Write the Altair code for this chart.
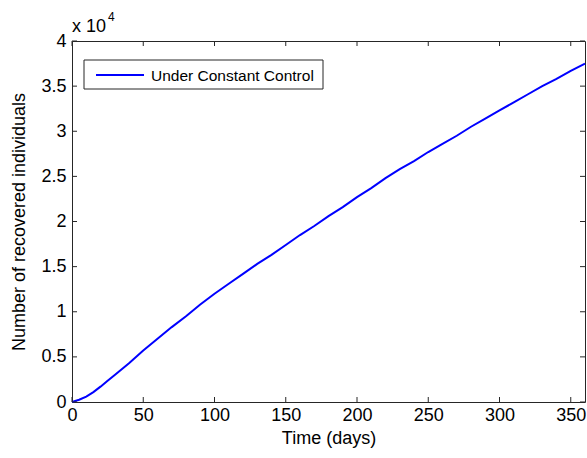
import altair as alt
import pandas as pd

# ---- data ----
days = [0, 5, 10, 15, 20, 25, 30, 40, 50, 60, 70, 80, 90, 100, 110, 120, 130, 140,
        150, 160, 170, 180, 190, 200, 210, 220, 230, 240, 250, 260, 270, 280, 290,
        300, 310, 320, 330, 340, 350, 360]
recovered = [0, 250, 600, 1100, 1700, 2350, 3000, 4300, 5700, 7000, 8300, 9500,
             10800, 12000, 13100, 14200, 15300, 16300, 17400, 18500, 19500, 20600,
             21600, 22700, 23700, 24800, 25800, 26700, 27700, 28600, 29500, 30500,
             31400, 32300, 33200, 34100, 35000, 35800, 36700, 37500]
series_name = "Under Constant Control"
x_ticks = [0, 50, 100, 150, 200, 250, 300, 350]
y_ticks = [0, 5000, 10000, 15000, 20000, 25000, 30000, 35000, 40000]

W, H = 513, 361
FONT = "Liberation Sans"
AX = "#262626"
BLUE = "#0000ff"
FS = 18

df = pd.DataFrame({"t": days, "r": recovered, "s": series_name})
xt = pd.DataFrame({"v": x_ticks})
yt = pd.DataFrame({"v": y_ticks})
leg = pd.DataFrame({"s": [series_name]})

xscale = alt.Scale(domain=[0, 360], nice=False, zero=False)
yscale = alt.Scale(domain=[0, 40000], nice=False)
x_axis = alt.Axis(title="Time (days)", values=x_ticks, labelPadding=4, titlePadding=5,
                  labelFlush=False)
y_axis = alt.Axis(title="Number of recovered individuals", values=y_ticks,
                  labelExpr="datum.value / 10000", labelPadding=6, titlePadding=12,
                  labelFlush=False)

line = alt.Chart(df).mark_line(strokeWidth=2, color=BLUE).encode(
    x=alt.X("t:Q", scale=xscale, axis=x_axis),
    y=alt.Y("r:Q", scale=yscale, axis=y_axis),
    detail="s:N",
)

tick_len = 5
bottom_ticks = alt.Chart(xt).mark_rule(color=AX).encode(
    x=alt.X("v:Q", scale=xscale, axis=x_axis), y=alt.value(H), y2=alt.value(H - tick_len))
top_ticks = alt.Chart(xt).mark_rule(color=AX).encode(
    x=alt.X("v:Q", scale=xscale, axis=x_axis), y=alt.value(0), y2=alt.value(tick_len))
left_ticks = alt.Chart(yt).mark_rule(color=AX).encode(
    y=alt.Y("v:Q", scale=yscale, axis=y_axis), x=alt.value(0), x2=alt.value(tick_len))
right_ticks = alt.Chart(yt).mark_rule(color=AX).encode(
    y=alt.Y("v:Q", scale=yscale, axis=y_axis), x=alt.value(W), x2=alt.value(W - tick_len))

# legend box (drawn by hand to match MATLAB's legend)
leg_box = alt.Chart(leg).mark_rect(fill="white", stroke=AX, strokeWidth=1).encode(
    x=alt.value(12), x2=alt.value(251), y=alt.value(19), y2=alt.value(48))
leg_line = alt.Chart(leg).mark_rule(color=BLUE, strokeWidth=2).encode(
    x=alt.value(24), x2=alt.value(72), y=alt.value(34))
leg_text = alt.Chart(leg).mark_text(
    align="left", baseline="middle", fontSize=15.5, font=FONT, color="black"
).encode(text="s:N", x=alt.value(79), y=alt.value(34.5))

exp_base = alt.Chart(pd.DataFrame({"txt": ["x 10"]})).mark_text(
    align="left", baseline="alphabetic", fontSize=FS, font=FONT, color="black"
).encode(text="txt:N", x=alt.value(0), y=alt.value(-9))
exp_pow = alt.Chart(pd.DataFrame({"txt": ["4"]})).mark_text(
    align="left", baseline="alphabetic", fontSize=12, font=FONT, color="black"
).encode(text="txt:N", x=alt.value(36), y=alt.value(-20))

chart = alt.layer(
    line, bottom_ticks, top_ticks, left_ticks, right_ticks,
    leg_box, leg_line, leg_text, exp_base, exp_pow
).properties(
    width=W, height=H,
    autosize=alt.AutoSizeParams(type="none"),
    padding={"left": 72, "top": 41, "right": 2, "bottom": 56},
    background="white",
).configure_view(
    stroke=AX, strokeWidth=1
).configure_axis(
    grid=False, domain=False, ticks=False,
    labelFont=FONT, labelFontSize=FS, labelColor="black",
    titleFont=FONT, titleFontSize=FS, titleColor="black", titleFontWeight="normal",
)

chart.save("out.html", embed_options={"renderer": "svg", "actions": False})
